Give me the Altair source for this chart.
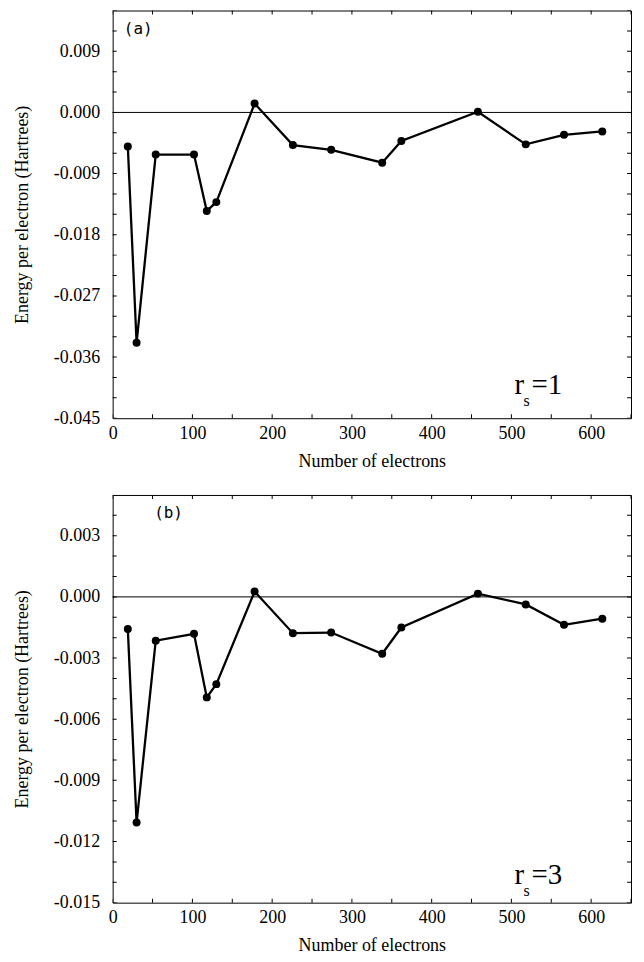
import altair as alt
import pandas as pd

SERIF = "Liberation Serif"

# ---- data ----
n_electrons = [19, 30, 54, 102, 118, 130, 178, 226, 274, 338, 362, 458, 518, 566, 614]
energy_rs1 = [-0.0050, -0.0339, -0.0062, -0.0062, -0.0145, -0.0132, 0.0013, -0.0048,
              -0.0055, -0.0074, -0.0042, 0.0001, -0.0047, -0.0033, -0.0028]
energy_rs3 = [-0.00158, -0.01107, -0.00215, -0.00181, -0.00493, -0.00428, 0.00026, -0.00178,
              -0.00175, -0.00279, -0.00150, 0.00016, -0.00037, -0.00137, -0.00107]

x_labels = [0, 100, 200, 300, 400, 500, 600]
x_minor = [0, 50, 100, 150, 200, 250, 300, 350, 400, 450, 500, 550, 600, 650]

y_labels_a = [-0.045, -0.036, -0.027, -0.018, -0.009, 0.000, 0.009]
y_minor_a = [round(-0.045 + 0.003 * i, 3) for i in range(21)]
y_labels_b = [-0.015, -0.012, -0.009, -0.006, -0.003, 0.000, 0.003]
y_minor_b = [round(-0.015 + 0.001 * i, 3) for i in range(21)]

W = 520
H = 409


def panel(values, ydom, ylab, yminor, tag, tag_xy, rs_val, rs_xy):
    xs = alt.Scale(domain=[0, 650], nice=False, zero=False)
    ys = alt.Scale(domain=ydom, nice=False, zero=False)
    xaxis = alt.Axis(values=x_labels, ticks=False, domain=False, grid=False,
                     labelFlush=False, labelPadding=6,
                     title="Number of electrons", titlePadding=10)
    yaxis = alt.Axis(values=ylab, ticks=False, domain=False, grid=False,
                     labelFlush=False, labelPadding=13,
                     labelExpr="replace(format(datum.value, '.3f'), '\u2212', '-')",
                     title="Energy per electron (Hartrees)", titlePadding=22)
    X = lambda f: alt.X(f, scale=xs, axis=xaxis)
    Y = lambda f: alt.Y(f, scale=ys, axis=yaxis)

    df = pd.DataFrame({"N": n_electrons, "E": values})
    base = alt.Chart(df).encode(x=X("N:Q"), y=Y("E:Q"))
    line = base.mark_line(color="black", strokeWidth=2.3)
    pts = base.mark_circle(color="black", size=64, opacity=1)
    zero = alt.Chart(pd.DataFrame({"z": [0.0]})).mark_rule(color="black", strokeWidth=1).encode(
        y=Y("z:Q"))

    xt = pd.DataFrame({"t": x_minor, "lo": [ydom[0]] * len(x_minor), "hi": [ydom[1]] * len(x_minor)})
    yt = pd.DataFrame({"t": yminor, "lo": [0] * len(yminor), "hi": [650] * len(yminor)})
    tick_bot = alt.Chart(xt).mark_tick(orient="vertical", size=8, thickness=1, color="black",
                                       clip=True, opacity=1).encode(x=X("t:Q"), y=Y("lo:Q"))
    tick_top = alt.Chart(xt).mark_tick(orient="vertical", size=8, thickness=1, color="black",
                                       clip=True, opacity=1).encode(x=X("t:Q"), y=Y("hi:Q"))
    tick_left = alt.Chart(yt).mark_tick(orient="horizontal", size=8, thickness=1, color="black",
                                        clip=True, opacity=1).encode(y=Y("t:Q"), x=X("lo:Q"))
    tick_right = alt.Chart(yt).mark_tick(orient="horizontal", size=8, thickness=1, color="black",
                                         clip=True, opacity=1).encode(y=Y("t:Q"), x=X("hi:Q"))

    tag_df = pd.DataFrame({"x": [tag_xy[0]], "y": [tag_xy[1]], "t": [tag]})
    tag_txt = alt.Chart(tag_df).mark_text(font="DejaVu Sans Mono", fontSize=16, align="left",
                                          baseline="middle", color="black").encode(
        x=X("x:Q"), y=Y("y:Q"), text="t:N")

    rs_df = pd.DataFrame({"x": [rs_xy[0]], "y": [rs_xy[1]], "r": ["r"], "s": ["s"],
                          "v": ["=" + rs_val]})
    rs_base = alt.Chart(rs_df).encode(x=X("x:Q"), y=Y("y:Q"))
    r_txt = rs_base.mark_text(font=SERIF, fontSize=29, align="left", baseline="alphabetic",
                              color="black").encode(text="r:N")
    s_txt = rs_base.mark_text(font=SERIF, fontSize=16, align="left", baseline="alphabetic",
                              color="black", dx=9, dy=12).encode(text="s:N")
    v_txt = rs_base.mark_text(font=SERIF, fontSize=29, align="left", baseline="alphabetic",
                              color="black", dx=17).encode(text="v:N")

    return alt.layer(line, zero, pts, tick_bot, tick_top, tick_left, tick_right,
                     tag_txt, r_txt, s_txt, v_txt).properties(width=W, height=H)


top = panel(energy_rs1, [-0.045, 0.015], y_labels_a, y_minor_a, "(a)", (14, 0.0123), "1",
            (504, -0.0414))
bottom = panel(energy_rs3, [-0.015, 0.005], y_labels_b, y_minor_b, "(b)", (52, 0.0041), "3",
               (504, -0.0141))

chart = alt.vconcat(top, bottom, spacing=23).properties(
    padding={"left": 5, "top": 0, "right": 4, "bottom": 0},
    background="white",
).configure_view(
    stroke="black", strokeWidth=1
).configure_axis(
    labelFont=SERIF, labelFontSize=18, labelColor="black",
    titleFont=SERIF, titleFontSize=18, titleFontWeight="normal", titleColor="black",
)

chart.save("out.html", embed_options={"renderer": "svg", "actions": False})
